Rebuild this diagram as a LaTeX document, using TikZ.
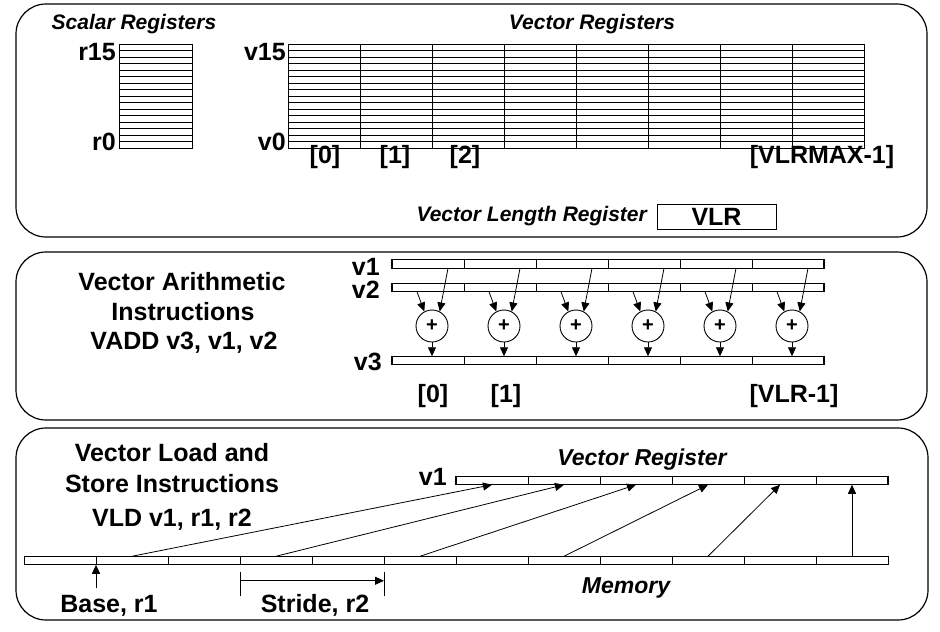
\documentclass[tikz,border=0pt]{standalone}
\usepackage{fontspec}
\setmainfont{Liberation Sans}
\usetikzlibrary{arrows.meta, calc}

\tikzset{
  lbl/.style={font=\fontsize{25}{28}\selectfont\bfseries, inner sep=0pt},
  ilbl/.style={font=\fontsize{21}{24}\selectfont\bfseries\itshape, inner sep=0pt},
  panel/.style={draw, line width=1.2pt, rounded corners=30pt},
  cell/.style={draw, line width=0.6pt, minimum width=72pt, minimum height=8.5pt, inner sep=0pt, outer sep=0pt},
  adder/.style={draw, circle, line width=0.9pt, minimum size=32pt, inner sep=0pt, font=\fontsize{20}{20}\selectfont\bfseries},
  arr/.style={line width=0.8pt, -{Triangle[length=9pt,width=8pt]}}
}

\begin{document}
\begin{tikzpicture}[x=1pt, y=-1pt]
    \useasboundingbox (0,0) rectangle (940,632);

    % Panels
    \draw[panel] (16,4) rectangle (927,237);
    \draw[panel] (16,252) rectangle (927,420);
    \draw[panel] (16,428) rectangle (928,620);

    % Scalar registers
    \node[ilbl, anchor=base] (stitle) at (134,29) {Scalar Registers};
    \draw[line width=0.8pt] (119,44) rectangle (192,148);
    \foreach \k in {1,...,15}
        \draw[line width=0.5pt] (119,{44+\k*6.5}) -- (192,{44+\k*6.5});
    \node[lbl, anchor=north east] (rtop) at (116,43) {r15};
    \node[lbl, anchor=base east] (rbot) at (116,150) {r0};

    % Vector registers
    \node[ilbl, anchor=base] (vtitle) at (592,29) {Vector Registers};
    \draw[line width=0.8pt] (288,44) rectangle (864,148);
    \foreach \k in {1,...,15}
        \draw[line width=0.5pt] (288,{44+\k*6.5}) -- (864,{44+\k*6.5});
    \foreach \j in {1,...,7}
        \draw[line width=0.8pt] ({288+72*\j},44) -- ({288+72*\j},148);
    \node[lbl, anchor=north east] (vtop) at (286,43) {v15};
    \node[lbl, anchor=base east] (vbot) at (286,150) {v0};

    % Element indices
    \node[lbl, anchor=base] (ix0) at (325,163) {[0]};
    \node[lbl, anchor=base] (ix1) at (395,163) {[1]};
    \node[lbl, anchor=base] (ix2) at (465,163) {[2]};
    \node[lbl, anchor=base] (ixmax) at (822,163) {[VLRMAX-1]};

    % Vector length register
    \node[ilbl, anchor=base east] (vlrtxt) at (647,221) {Vector Length Register};
    \node[lbl, draw, line width=0.8pt, minimum width=119pt, minimum height=25pt] (vlr) at (716.5,216.5) {VLR};

    % Vector arithmetic
    \node[lbl, anchor=base] (arith1) at (182,290) {Vector Arithmetic};
    \node[lbl, anchor=base] (arith2) at (183,320) {Instructions};
    \node[lbl, anchor=base] (vadd) at (184,349) {VADD v3, v1, v2};

    \foreach \i in {0,...,5} {
        \node[cell] (va\i) at ({428+72*\i},264) {};
        \node[cell] (vb\i) at ({428+72*\i},287.5) {};
        \node[cell] (vc\i) at ({428+72*\i},360.5) {};
        \node[adder] (add\i) at ({432+72*\i},326) {+};
        \draw[arr] ($(va\i.south)+(20,0)$) -- (add\i.62);
        \draw[arr] ($(vb\i.south)+(-11,0)$) -- (add\i.118);
        \draw[arr] (add\i.south) -- (add\i.south |- vc\i.north);
    }
    \draw[line width=1.2pt] (va0.north west) rectangle (va5.south east);
    \draw[line width=1.2pt] (vb0.north west) rectangle (vb5.south east);
    \draw[line width=1.2pt] (vc0.north west) rectangle (vc5.south east);

    \node[lbl, anchor=base east] (lv1) at (380,275) {v1};
    \node[lbl, anchor=base east] (lv2) at (380,298) {v2};
    \node[lbl, anchor=base east] (lv3) at (382,370) {v3};

    \node[lbl, anchor=base] (jx0) at (433,402) {[0]};
    \node[lbl, anchor=base] (jx1) at (506,402) {[1]};
    \node[lbl, anchor=base] (jxvlr) at (794,402) {[VLR-1]};

    % Vector load and store
    \node[lbl, anchor=base] (ldst1) at (172,461) {Vector Load and};
    \node[lbl, anchor=base] (ldst2) at (172,492) {Store Instructions};
    \node[lbl, anchor=base] (vld) at (172,526) {VLD v1, r1, r2};

    \node[ilbl, font=\fontsize{23}{26}\selectfont\bfseries\itshape, anchor=base] (vrtitle) at (642,465) {Vector Register};
    \foreach \i in {0,...,5}
        \node[cell] (vr\i) at ({492+72*\i},480.5) {};
    \draw[line width=1.2pt] (vr0.north west) rectangle (vr5.south east);
    \node[lbl, anchor=base east] (lvr) at (447,485) {v1};

    % Memory
    \foreach \j in {0,...,11}
        \node[cell] (mem\j) at ({60+72*\j},560.5) {};
    \draw[line width=1pt] (mem0.north west) rectangle (mem11.south east);
    \node[ilbl, font=\fontsize{23}{26}\selectfont\bfseries\itshape, anchor=base] (memtxt) at (626,593) {Memory};

    % Strided loads
    \foreach \i [evaluate=\i as \j using int(2*\i+1)] in {0,...,5}
        \draw[arr] (mem\j.north) -- (vr\i.south);

    % Base and stride
    \coordinate (basetail) at (96,588);
    \draw[arr] (basetail) -- (mem0.south east);
    \node[lbl, anchor=base] (base) at (109,612) {Base, r1};

    \draw[line width=0.8pt] ($(mem3.south west)+(0,7)$) -- ++(0,24);
    \draw[line width=0.8pt] ($(mem5.south west)+(0,7)$) -- ++(0,24);
    \draw[arr] ($(mem3.south west)+(0,16)$) -- ($(mem5.south west)+(0,16)$);
    \node[lbl, anchor=base] (stride) at (315,612) {Stride, r2};
\end{tikzpicture}
\end{document}
